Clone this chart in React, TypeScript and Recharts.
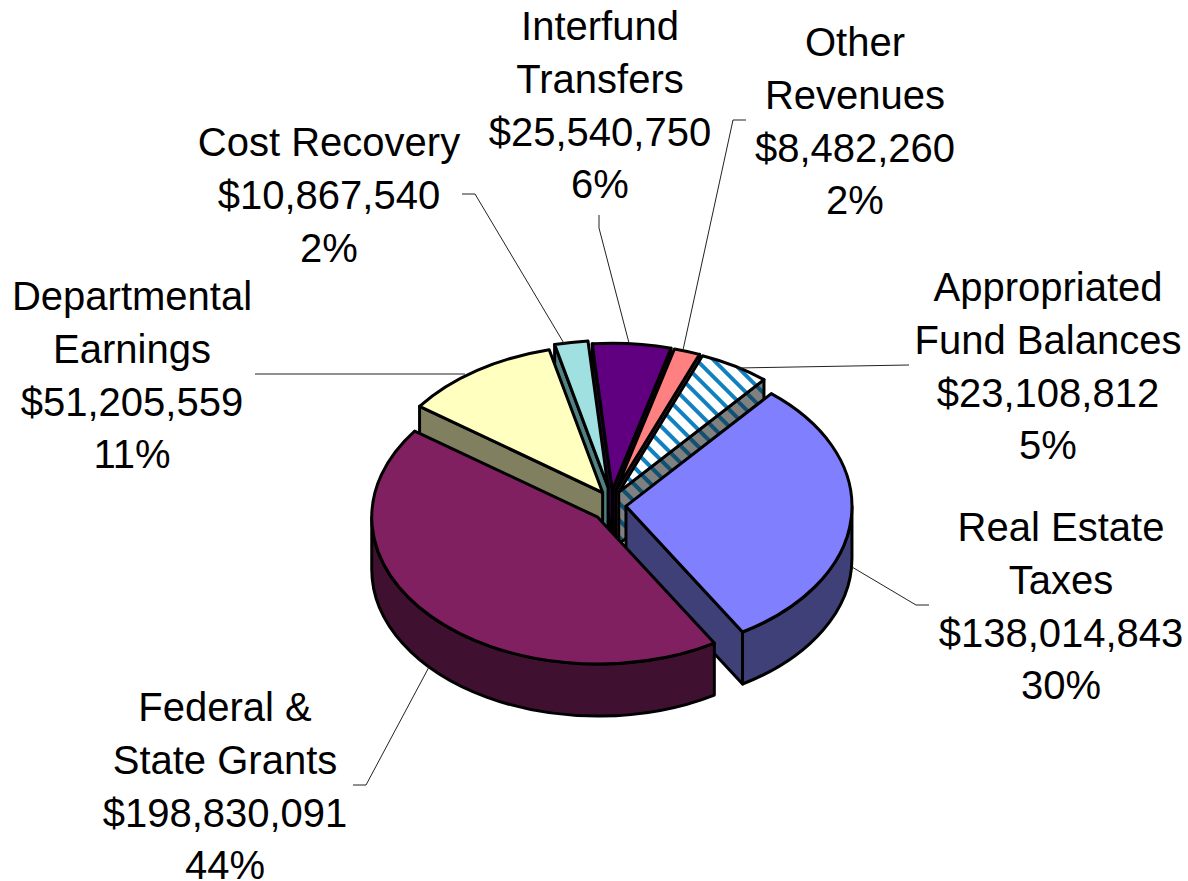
import { Pie, PieChart } from 'recharts';

// Data runs counter-clockwise, starting just past the Real Estate edge
const NAMES = [
  'Appropriated Fund Balances',
  'Other Revenues',
  'Interfund Transfers',
  'Cost Recovery',
  'Departmental Earnings',
  'Federal & State Grants',
  'Real Estate Taxes',
];
const VALUES = [23108812, 8482260, 25540750, 10867540, 51205559, 198830091, 138014843];
const TOP_COLORS = ['url(#stripes)', '#ff8080', '#600080', '#a0e0e0', '#ffffc0', '#802060', '#8080ff'];
const WALL_COLORS = ['url(#stripesDark)', '#985a5a', '#300040', '#508080', '#808060', '#401030', '#404078'];

// Label lines as they are broken in the picture
const LABEL_LINES = [
  ['Appropriated', 'Fund Balances'],
  ['Other', 'Revenues'],
  ['Interfund', 'Transfers'],
  ['Cost Recovery'],
  ['Departmental', 'Earnings'],
  ['Federal &', 'State Grants'],
  ['Real Estate', 'Taxes'],
];

const data = NAMES.map((name, i) => ({
  name,
  value: VALUES[i],
  top: TOP_COLORS[i],
  wall: WALL_COLORS[i],
  lines: LABEL_LINES[i],
}));

// Layout, kept apart from the data
const WIDTH = 1188;
const HEIGHT = 881;
const SQUASH = 0.65;
const DEPTH = 52;
const EXPLODE = [15, 15, 15, 18, 15, 18, 15];
// Indexes into NAMES: paint from the back centre outwards, front slice last
const PAINT_ORDER = [2, 1, 3, 0, 4, 6, 5];
const LABEL_CENTER_X = [1048, 855, 600, 329, 132, 225, 1061];
const LABEL_FIRST_BASELINE = [301, 56, 40, 156, 310, 721, 541];
const LINE_HEIGHT = 52.8;
const LEADERS = [
  '909,365 737,368',
  '746,120 733,120 683,350',
  '599,215 599,228 629,343',
  '462,194 475,194 565,345',
  '255,374 465,374',
  '353,785 366,785 429,667',
  '852,567 916,605 929,605',
];

function Slice(props: any) {
  const { cx, cy, outerRadius: rx, startAngle, endAngle, payload } = props;
  const ry = rx * SQUASH;
  const toRad = Math.PI / 180;
  const mid = ((startAngle + endAngle) / 2) * toRad;
  const explode = EXPLODE[NAMES.indexOf(payload.name)];
  const ox = cx + explode * Math.cos(mid);
  const oy = cy - explode * Math.sin(mid);
  const pt = (deg: number, drop = 0) => {
    const a = deg * toRad;
    return `${ox + rx * Math.cos(a)} ${oy - ry * Math.sin(a) + drop}`;
  };
  const face = (deg: number) =>
    `M${ox} ${oy}L${pt(deg)}L${pt(deg, DEPTH)}L${ox} ${oy + DEPTH}Z`;

  // Only the part of the rim below the horizontal diameter can be seen
  const rims: string[] = [];
  for (const base of [180, 540]) {
    const a = Math.max(startAngle, base);
    const b = Math.min(endAngle, base + 180);
    if (b > a) {
      rims.push(
        `M${pt(a)}A${rx} ${ry} 0 0 0 ${pt(b)}L${pt(b, DEPTH)}A${rx} ${ry} 0 0 1 ${pt(a, DEPTH)}Z`,
      );
    }
  }
  const large = endAngle - startAngle > 180 ? 1 : 0;
  const stroke = { stroke: '#000', strokeWidth: 3, strokeLinejoin: 'round' as const };
  // A cut face is drawn only when it turns towards the viewer
  const showStart = Math.cos(startAngle * toRad) > 0;
  const showEnd = Math.cos(endAngle * toRad) < 0;

  return (
    <g>
      {showStart && <path d={face(startAngle)} fill={payload.wall} {...stroke} />}
      {showEnd && <path d={face(endAngle)} fill={payload.wall} {...stroke} />}
      {rims.map((d) => (
        <path key={d} d={d} fill={payload.wall} {...stroke} />
      ))}
      <path
        d={`M${ox} ${oy}L${pt(startAngle)}A${rx} ${ry} 0 ${large} 0 ${pt(endAngle)}Z`}
        fill={payload.top}
        {...stroke}
      />
    </g>
  );
}

function SliceLabel(props: any) {
  const { index, value, percent, payload } = props;
  const rows = [
    ...payload.lines,
    `$${value.toLocaleString('en-US')}`,
    `${Math.round(percent * 100)}%`,
  ];
  return (
    <g>
      <polyline points={LEADERS[index]} fill="none" stroke="#222" strokeWidth={1} />
      {rows.map((row: string, i: number) => (
        <text
          key={row}
          x={LABEL_CENTER_X[index]}
          y={LABEL_FIRST_BASELINE[index] + i * LINE_HEIGHT}
          textAnchor="middle"
          fontFamily="'Liberation Sans', Arial, sans-serif"
          fontSize={40}
          fill="#000"
        >
          {row}
        </text>
      ))}
    </g>
  );
}

export default function App() {
  const lastPass = PAINT_ORDER[PAINT_ORDER.length - 1];
  return (
    <div style={{ position: 'absolute', left: 0, top: 0, width: WIDTH, height: HEIGHT }}>
      <PieChart width={WIDTH} height={HEIGHT} margin={{ top: 0, right: 0, bottom: 0, left: 0 }}>
        <defs>
          <pattern id="stripes" width={12} height={12} patternUnits="userSpaceOnUse" patternTransform="rotate(45)">
            <rect width={12} height={12} fill="#fff" />
            <rect width={12} height={4} fill="#1080c0" />
          </pattern>
          <pattern id="stripesDark" width={12} height={12} patternUnits="userSpaceOnUse" patternTransform="rotate(45)">
            <rect width={12} height={12} fill="#808080" />
            <rect width={12} height={4} fill="#105070" />
          </pattern>
        </defs>
        {/* One pass per slice: a slice's cut face has to go under the next slice's top */}
        {PAINT_ORDER.map((sliceIndex) => (
          <Pie
            key={sliceIndex}
            data={data}
            dataKey="value"
            nameKey="name"
            cx={611}
            cy={505}
            outerRadius={226}
            startAngle={50}
            endAngle={410}
            stroke="none"
            isAnimationActive={false}
            shape={(props: any) =>
              props.payload.name === NAMES[sliceIndex] ? <Slice {...props} /> : <g />
            }
            labelLine={false}
            label={sliceIndex === lastPass ? SliceLabel : false}
          />
        ))}
      </PieChart>
    </div>
  );
}
